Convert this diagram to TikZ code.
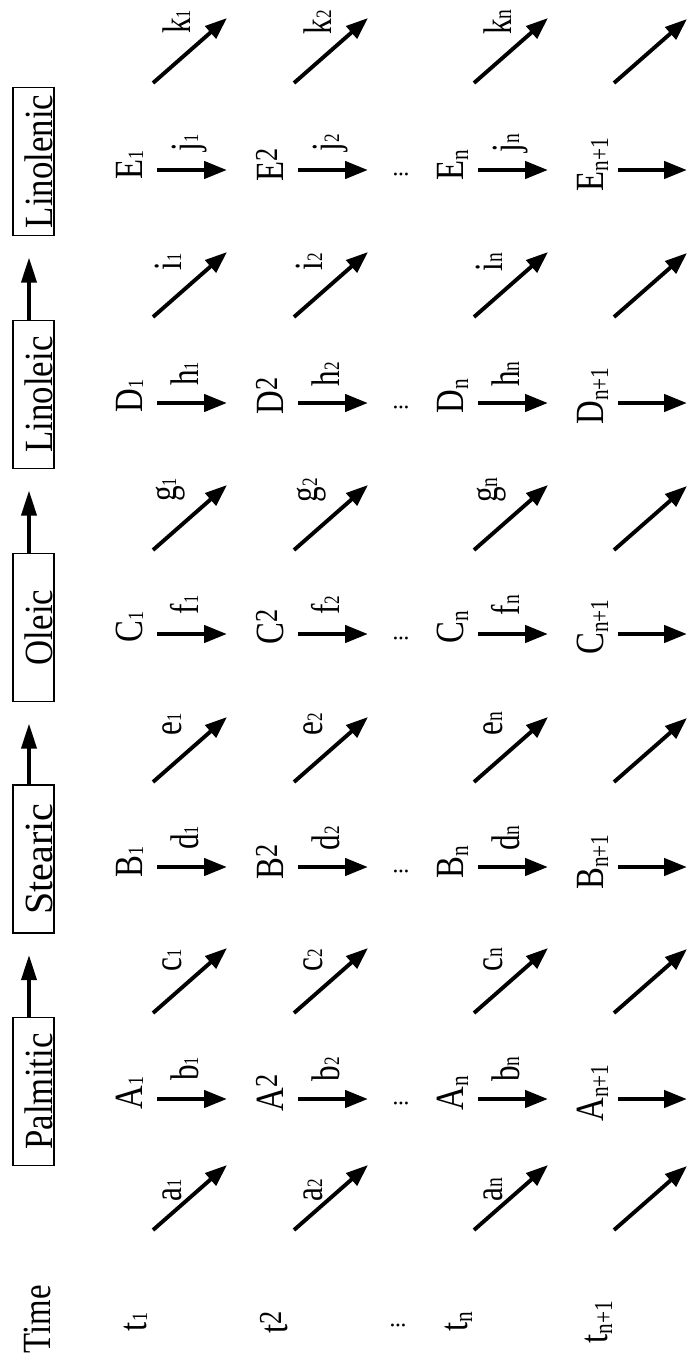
\documentclass[tikz,border=0pt]{standalone}
\usepackage{fontspec}
\setmainfont{Liberation Serif}
\usepackage{graphicx}
\usetikzlibrary{arrows.meta}

% text helpers
\newcommand\bigsz{\fontsize{40}{40}\selectfont}
\newcommand\idx[3]{\raisebox{#2pt}{\fontsize{#1}{#1}\selectfont #3}}
\newcommand\narrow[2]{\scalebox{#1}[1]{#2}}
\newcommand\rowdots{\vbox{\baselineskip=5.5pt\lineskiplimit=-10pt\lineskip=0pt\hbox{.}\hbox{.}\hbox{.}}}

\begin{document}
\begin{tikzpicture}[x=1pt, y=-1pt,
  every node/.style={inner sep=0pt, outer sep=0pt},
  acid/.style={draw, line width=1.8pt, rotate=90, font=\bigsz,
    minimum width=148pt, text height=40pt, text depth=1.3pt},
  pool/.style={rotate=90, anchor=base, font=\bigsz},
  rate/.style={rotate=90, anchor=base, font=\bigsz},
  vdot/.style={rotate=90, font=\fontsize{24}{24}\selectfont},
  convert/.style={line width=3.6pt, -{Triangle[length=25pt,width=15pt]}, shorten >=22pt},
  carry/.style={line width=4.4pt, -{Triangle[length=23pt,width=17pt]}},
  react/.style={line width=3.9pt, -{Triangle[length=22pt,width=16pt]}}
]
\useasboundingbox (0,0) rectangle (687,1364);

% fatty acid chain
\node[acid] (pal) at (33.5,1091.5) {\narrow{0.87}{Palmitic}};
\node[acid] (ste) at (33.5,859) {Stearic};
\node[acid] (ole) at (33.5,627.5) {\narrow{0.87}{Oleic}};
\node[acid] (lio) at (33.5,394.5) {\narrow{0.87}{Linoleic}};
\node[acid] (lie) at (33.5,161.5) {\narrow{0.87}{Linolenic}};
\foreach \u/\v in {pal/ste, ste/ole, ole/lio, lio/lie}
  \draw[convert] ([xshift=-4.5pt]\u.east) -- ([xshift=-4.5pt]\v.west);

\node[pool] (time) at (50,1319) {\narrow{0.82}{Time}};

% time steps with rates
\foreach \rw/\sh/\ms/\ls in {
    1/0/{\idx{22}{-1}{1}}/{\idx{21}{0}{1}},
    2/141/{\idx{32}{6}{2}}/{\idx{22}{0}{2}},
    n/321/{\idx{26}{-5}{n}}/{\idx{25}{0}{n}}} {
  \node[pool] (t-\rw) at (146+\sh,1322) {\narrow{0.82}{t\ms}};
  \foreach \sp/\ay/\ty/\lb/\ly in {A/1099/1093/b/1069, B/867/862/d/838,
      C/634/627/f/605, D/403/396/h/374, E/170/165/j/143} {
    \node[pool] (\sp-\rw) at (142+\sh,\ty) {\narrow{0.82}{\sp\ms}};
    \coordinate (\lb-\rw-s) at (157+\sh,\ay);
    \coordinate (\lb-\rw-e) at (227+\sh,\ay);
    \draw[carry] (\lb-\rw-s) -- (\lb-\rw-e);
    \node[rate] (\lb-\rw) at (198+\sh,\ly) {\narrow{0.78}{\lb\ls}};
  }
  \foreach \lb/\y/\ly/\lx in {a/1230/1190/181, c/1013/960/181, e/782/724/181,
      g/550/490/176, i/317/262/181, k/83/22/190} {
    \coordinate (\lb-\rw-s) at (153+\sh,\y);
    \coordinate (\lb-\rw-e) at (227+\sh,\y-65);
    \draw[react] (\lb-\rw-s) -- (\lb-\rw-e);
    \node[rate] (\lb-\rw) at (\lx+\sh,\ly) {\narrow{0.78}{\lb\ls}};
  }
}

% last time step
\node[pool] (t-n1) at (607,1322) {\narrow{0.82}{t\idx{26}{-5}{n+1}}};
\foreach \sp/\ay/\ty in {A/1099/1093, B/867/862, C/634/627, D/403/396, E/170/165} {
  \node[pool] (\sp-n1) at (603,\ty) {\narrow{0.82}{\sp\idx{26}{-5}{n+1}}};
  \coordinate (\sp-n1-s) at (618,\ay);
  \coordinate (\sp-n1-e) at (687,\ay);
  \draw[carry] (\sp-n1-s) -- (\sp-n1-e);
}
\foreach \lb/\y in {a/1230, c/1013, e/782, g/550, i/317, k/83} {
  \coordinate (\lb-n1-s) at (614,\y);
  \coordinate (\lb-n1-e) at (687,\y-64);
  \draw[react] (\lb-n1-s) -- (\lb-n1-e);
}

% elided steps
\node[vdot] (dots-t) at (398,1325) {\rowdots};
\foreach \sp/\y in {A/1103.5, B/871.5, C/638.5, D/407.5, E/174.5}
  \node[vdot] (dots-\sp) at (401,\y) {\rowdots};
\end{tikzpicture}
\end{document}
